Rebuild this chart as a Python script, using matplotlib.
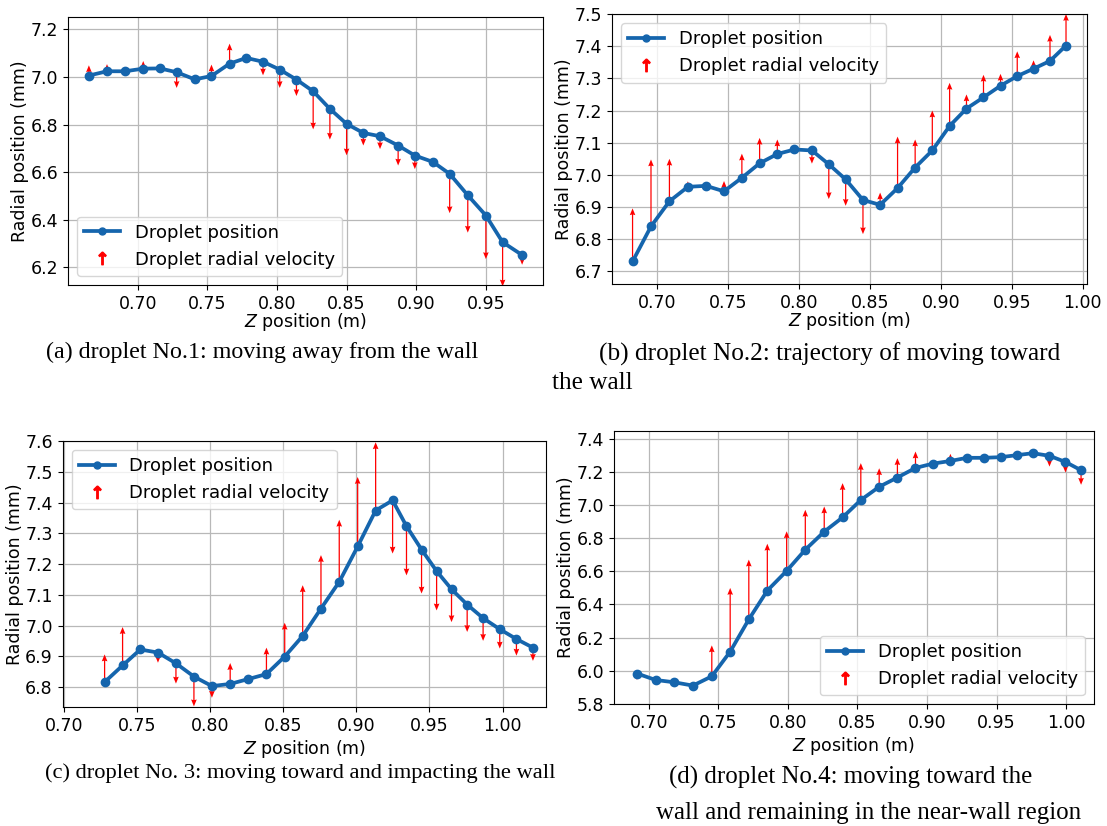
import matplotlib
matplotlib.use("Agg")
import matplotlib.pyplot as plt
from matplotlib.lines import Line2D
import numpy as np


# ----------------------------------------------------------------------
# Data (z in m, r in mm, dr = arrow length in mm)
# ----------------------------------------------------------------------
Z_A = [0.665, 0.678, 0.691, 0.704, 0.716, 0.728, 0.741, 0.753, 0.766, 0.778,
       0.790, 0.802, 0.814, 0.826, 0.838, 0.850, 0.862, 0.874, 0.887, 0.899,
       0.912, 0.924, 0.937, 0.950, 0.962, 0.976]
R_A = [7.006, 7.024, 7.024, 7.035, 7.036, 7.020, 6.990, 7.004, 7.056, 7.080,
       7.064, 7.031, 6.989, 6.940, 6.866, 6.803, 6.765, 6.751, 6.712, 6.670,
       6.643, 6.593, 6.503, 6.418, 6.306, 6.252]
DR_A = [0.043, 0.030, -0.010, 0.032, 0.0, -0.066, 0.0, 0.048, 0.084, 0.0,
        -0.057, -0.077, -0.069, -0.160, -0.129, -0.132, -0.053, -0.054, -0.084, -0.057,
        -0.024, -0.165, -0.157, -0.183, -0.186, -0.041]

Z_B = [0.6825, 0.6955, 0.7085, 0.7215, 0.7343, 0.7470, 0.7596, 0.7721, 0.7846, 0.7967,
       0.8090, 0.8209, 0.8328, 0.8450, 0.8571, 0.8694, 0.8818, 0.8939, 0.9061, 0.9180,
       0.9300, 0.9420, 0.9538, 0.9653, 0.9769, 0.9882]
R_B = [6.731, 6.840, 6.918, 6.963, 6.966, 6.949, 6.991, 7.036, 7.065, 7.079,
       7.076, 7.033, 6.986, 6.922, 6.907, 6.959, 7.023, 7.076, 7.152, 7.206,
       7.241, 7.277, 7.307, 7.330, 7.354, 7.402]
DR_B = [0.165, 0.208, 0.132, 0.017, 0.0, 0.032, 0.075, 0.079, 0.045, 0.0,
        -0.041, -0.108, -0.082, -0.106, 0.038, 0.160, 0.087, 0.124, 0.134, 0.044,
        0.070, 0.037, 0.077, 0.026, 0.081, 0.098]

Z_C = [0.7278, 0.7401, 0.7522, 0.7643, 0.7766, 0.7889, 0.8012, 0.8137, 0.8262, 0.8385,
       0.8510, 0.8633, 0.8758, 0.8883, 0.9009, 0.9132, 0.9248, 0.9343, 0.9446, 0.9549,
       0.9651, 0.9758, 0.9867, 0.9981, 1.0095, 1.0208]
R_C = [6.816, 6.870, 6.922, 6.912, 6.877, 6.834, 6.803, 6.810, 6.826, 6.842,
       6.899, 6.966, 7.055, 7.142, 7.257, 7.374, 7.407, 7.323, 7.247, 7.177,
       7.118, 7.068, 7.024, 6.988, 6.956, 6.928]
DR_C = [0.090, 0.125, 0.013, -0.033, -0.066, -0.097, -0.038, 0.068, 0.014, 0.086,
        0.110, 0.165, 0.174, 0.202, 0.226, 0.222, -0.173, -0.160, -0.143, -0.128,
        -0.107, -0.089, -0.074, -0.063, -0.054, -0.043]

Z_D = [0.6915, 0.7049, 0.7183, 0.7317, 0.7453, 0.7585, 0.7719, 0.7852, 0.7991, 0.8125,
       0.8261, 0.8393, 0.8524, 0.8656, 0.8787, 0.8917, 0.9043, 0.9168, 0.9287, 0.9409,
       0.9529, 0.9646, 0.9760, 0.9880, 0.9995, 1.0107]
R_D = [5.983, 5.944, 5.930, 5.910, 5.966, 6.115, 6.310, 6.484, 6.603, 6.731,
       6.840, 6.926, 7.031, 7.111, 7.167, 7.225, 7.251, 7.267, 7.286, 7.286,
       7.290, 7.302, 7.314, 7.298, 7.261, 7.211]
DR_D = [-0.039, -0.024, -0.030, 0.0, 0.187, 0.385, 0.361, 0.283, 0.239, 0.241,
        0.152, 0.207, 0.223, 0.112, 0.117, 0.099, 0.0, 0.043, 0.0, 0.0,
        0.010, 0.018, 0.0, -0.065, -0.064, -0.088]

CAPTION_A = "(a) droplet No.1: moving away from the wall"
CAPTION_B = ["(b) droplet No.2: trajectory of moving toward", "the wall"]
CAPTION_C = "(c) droplet No. 3: moving toward and impacting the wall"
CAPTION_D = ["(d) droplet No.4: moving toward the",
             "wall and remaining in the near-wall region"]

# ----------------------------------------------------------------------
# Style
# ----------------------------------------------------------------------
W, H = 1107, 826
BLUE = "#1565ad"
TICK_SIZE = 12.5
LEGEND_SIZE = 13
CAPTION_FONT = "Liberation Serif"


def px_axes(fig, left, top, right, bottom):
    """Adds an axes given its box in pixel coordinates (origin top-left)."""
    return fig.add_axes([left / W, 1 - bottom / H, (right - left) / W, (bottom - top) / H])


def draw_panel(ax, z, r, dr, xlim, ylim, yticks, legend_loc, xlabel_pad=2):
    z = np.asarray(z)
    r = np.asarray(r)
    dr = np.asarray(dr)

    ax.grid(True, color="#b8b8b8", linewidth=0.9, zorder=0)
    ax.set_axisbelow(True)

    ax.quiver(
        z, r, np.zeros_like(z), dr,
        angles="xy", scale_units="xy", scale=1,
        color="red", width=0.0026, headwidth=4.5, headlength=5.5,
        headaxislength=5, minlength=0, zorder=2,
    )
    ax.plot(z, r, color=BLUE, linewidth=2.7, marker="o", markersize=6, zorder=3)

    ax.set_yticks(yticks)
    ax.set_xticks([0.70, 0.75, 0.80, 0.85, 0.90, 0.95, 1.00])
    ax.set_xlim(*xlim)
    ax.set_ylim(*ylim)
    ax.set_xlabel("$Z$ position (m)", fontsize=TICK_SIZE, labelpad=xlabel_pad)
    ax.set_ylabel("Radial position (mm)", fontsize=TICK_SIZE, labelpad=1)
    ax.tick_params(labelsize=TICK_SIZE)

    handles = [
        Line2D([], [], color=BLUE, linewidth=2.7, marker="o", markersize=5),
        Line2D([], [], color="red", marker=r"$\uparrow$", linestyle="none", markersize=9),
    ]
    ax.legend(handles, ["Droplet position", "Droplet radial velocity"],
              loc=legend_loc, fontsize=LEGEND_SIZE)


def main() -> None:
    fig = plt.figure(figsize=(W / 100, H / 100), dpi=100)

    ax_a = px_axes(fig, 68, 17, 543, 285)
    draw_panel(ax_a, Z_A, R_A, DR_A, (0.650, 0.991), (6.126, 7.252),
               [6.2, 6.4, 6.6, 6.8, 7.0, 7.2], "lower left", xlabel_pad=-1.5)

    ax_b = px_axes(fig, 612, 14, 1087, 284)
    draw_panel(ax_b, Z_B, R_B, DR_B, (0.668, 1.003), (6.661, 7.5),
               [6.7, 6.8, 6.9, 7.0, 7.1, 7.2, 7.3, 7.4, 7.5], "upper left", xlabel_pad=-1.5)

    ax_c = px_axes(fig, 62.5, 440.7, 546.4, 707)
    draw_panel(ax_c, Z_C, R_C, DR_C, (0.699, 1.030), (6.735, 7.601),
               [6.8, 6.9, 7.0, 7.1, 7.2, 7.3, 7.4, 7.5, 7.6], "upper left", xlabel_pad=2)

    ax_d = px_axes(fig, 614, 431, 1094, 704.3)
    draw_panel(ax_d, Z_D, R_D, DR_D, (0.675, 1.020), (5.797, 7.448),
               [5.8, 6.0, 6.2, 6.4, 6.6, 6.8, 7.0, 7.2, 7.4], "lower right", xlabel_pad=2)

    cap = dict(fontfamily=CAPTION_FONT, va="baseline")
    fig.text(262 / W, 1 - 358 / H, CAPTION_A, ha="center", fontsize=17.3, **cap)
    fig.text(830 / W, 1 - 361 / H, CAPTION_B[0], ha="center", fontsize=18.2, **cap)
    fig.text(552 / W, 1 - 389 / H, CAPTION_B[1], ha="left", fontsize=18.2, **cap)
    fig.text(300 / W, 1 - 778 / H, CAPTION_C, ha="center", fontsize=16.2, **cap)
    fig.text(851 / W, 1 - 784 / H, CAPTION_D[0], ha="center", fontsize=17.9, **cap)
    fig.text(869 / W, 1 - 819 / H, CAPTION_D[1], ha="center", fontsize=17.9, **cap)

    fig.savefig("out.png", dpi=100)
    plt.close(fig)


if __name__ == "__main__":
    main()
